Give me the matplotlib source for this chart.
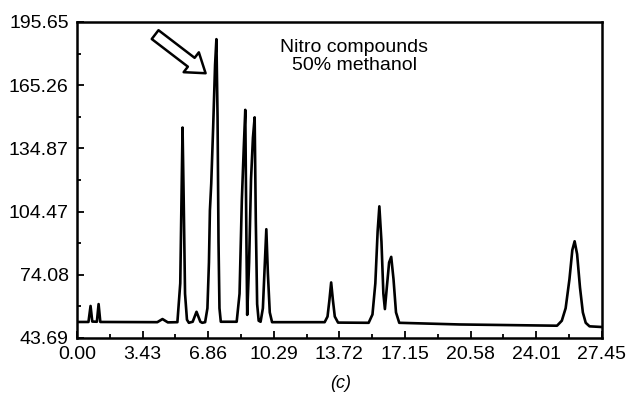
import matplotlib
matplotlib.use("Agg")
import matplotlib.pyplot as plt
from matplotlib.ticker import FixedLocator

# trace of the chromatogram (retention time, signal)
time = [0.05, 0.60, 0.71, 0.80, 1.04, 1.13, 1.22, 4.20, 4.47, 4.75,
        5.25, 5.40, 5.48, 5.52, 5.58, 5.65, 5.75, 5.85, 6.05, 6.25,
        6.45, 6.55, 6.70, 6.82, 6.90, 6.95, 7.02, 7.12, 7.22, 7.29,
        7.35, 7.40, 7.45, 7.52, 8.35, 8.50, 8.62, 8.72, 8.80, 8.86,
        8.90, 9.00, 9.10, 9.20, 9.29, 9.35, 9.42, 9.50, 9.60, 9.72,
        9.80, 9.90, 9.98, 10.08, 10.20, 12.95, 13.10, 13.20, 13.29, 13.38,
        13.48, 13.65, 15.25, 15.45, 15.60, 15.72, 15.81, 15.92, 16.02, 16.10,
        16.20, 16.32, 16.43, 16.55, 16.68, 16.85, 20.00, 25.10, 25.35, 25.55,
        25.75, 25.90, 26.02, 26.15, 26.30, 26.45, 26.60, 26.80, 27.40]
signal = [51.4, 51.4, 59.1, 51.6, 51.5, 60.0, 51.4, 51.3, 52.8, 51.2,
          51.3, 70.0, 120.0, 144.9, 110.0, 65.0, 52.5, 51.0, 51.5, 56.3,
          51.5, 51.0, 51.3, 58.0, 80.0, 105.0, 118.0, 145.0, 175.0, 187.4,
          150.0, 90.0, 58.0, 51.5, 51.5, 65.0, 110.0, 135.0, 153.4, 90.0,
          54.8, 80.0, 120.0, 140.0, 149.8, 100.0, 60.0, 52.0, 51.5, 58.0,
          75.0, 96.0, 75.0, 56.0, 51.3, 51.3, 54.0, 62.0, 70.4, 62.0,
          54.0, 51.1, 51.0, 55.0, 70.0, 95.0, 107.0, 90.0, 65.0, 57.6,
          68.0, 80.0, 82.7, 72.0, 56.0, 51.0, 50.2, 49.6, 52.0, 58.0,
          72.0, 86.0, 90.2, 84.0, 68.0, 56.0, 51.0, 49.3, 49.0]

x_ticks = [0.00, 3.43, 6.86, 10.29, 13.72, 17.15, 20.58, 24.01, 27.45]
x_labels = ["0.00", "3.43", "6.86", "10.29", "13.72", "17.15", "20.58",
            "24.01", "27.45"]
y_ticks = [43.69, 74.08, 104.47, 134.87, 165.26, 195.65]
y_labels = ["43.69", "74.08", "104.47", "134.87", "165.26", "195.65"]

plt.rcParams["font.family"] = ["Liberation Sans", "DejaVu Sans"]

fig = plt.figure(figsize=(6.31, 4.0), dpi=100)
ax = fig.add_axes([0.122, 0.155, 0.832, 0.79])

ax.plot(time, signal, color="black", lw=1.9, solid_joinstyle="round")

ax.set_xlim(x_ticks[0], x_ticks[-1])
ax.set_ylim(y_ticks[0], y_ticks[-1])

ax.xaxis.set_major_locator(FixedLocator(x_ticks))
ax.set_xticklabels(x_labels)
ax.yaxis.set_major_locator(FixedLocator(y_ticks))
ax.set_yticklabels(y_labels)
x_minor = [(a + b) / 2 for a, b in zip(x_ticks[:-1], x_ticks[1:])]
y_minor = [(a + b) / 2 for a, b in zip(y_ticks[:-1], y_ticks[1:])]
ax.xaxis.set_minor_locator(FixedLocator(x_minor))
ax.yaxis.set_minor_locator(FixedLocator(y_minor))

ax.tick_params(which="both", direction="in", width=1.3, labelsize=14,
               top=False, right=False)
ax.tick_params(which="major", length=5, pad=6)
ax.tick_params(which="minor", length=3)
for spine in ax.spines.values():
    spine.set_linewidth(1.8)

ax.text(14.5, 179.0, "Nitro compounds\n50% methanol", ha="center",
        va="center", fontsize=14, linespacing=1.05)

# hollow arrow pointing at the tallest peak
ax.annotate("", xy=(6.84, 170.2), xytext=(3.97, 190.4),
            arrowprops=dict(arrowstyle="simple,head_length=1.3,head_width=1.8,"
                                       "tail_width=0.8",
                            fc="white", ec="black", lw=1.8))

fig.text(0.54, 0.04, "(c)", ha="center", va="center", fontsize=13,
         style="italic")

fig.savefig("out.png", dpi=100)
